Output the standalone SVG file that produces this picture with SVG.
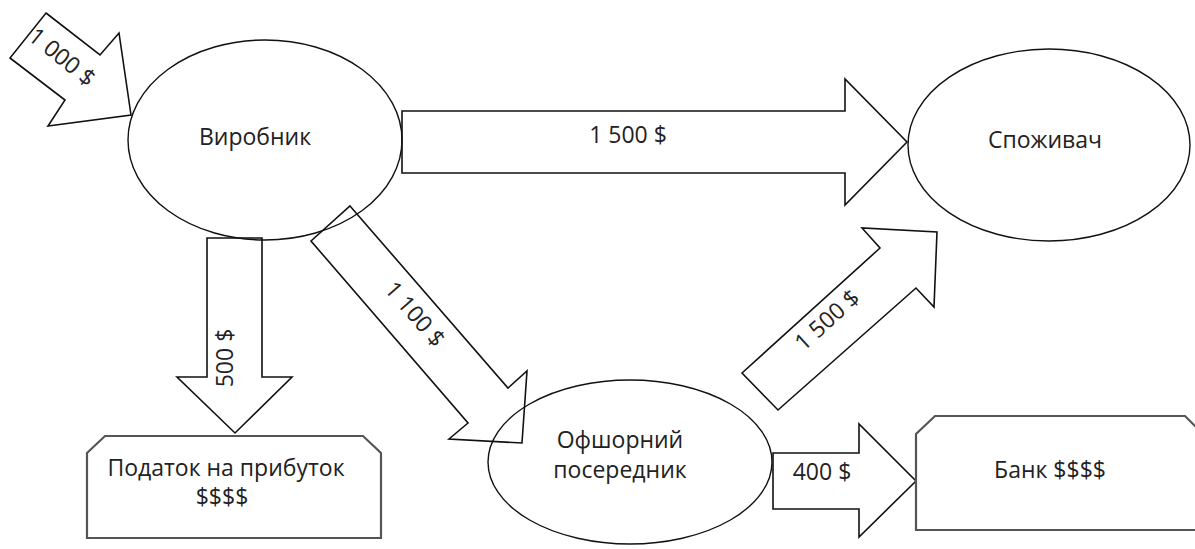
<svg xmlns="http://www.w3.org/2000/svg" width="1195" height="549" viewBox="0 0 1195 549">
<style>
  .bg { fill: #ffffff; }
  .node { fill: none; stroke: #111; stroke-width: 1.4; }
  .box { fill: none; stroke: #555; stroke-width: 2.2; }
  .arrow { fill: none; stroke: #111; stroke-width: 1.6; stroke-linejoin: miter; }
  .t { font-family: "Open Sans", "Noto Sans", "Liberation Sans", sans-serif; font-size: 23px; fill: #222; text-anchor: middle; }
</style>
<rect class="bg" x="0" y="0" width="1195" height="549"/>
<g id="connectors">
  <g id="arrow-1000">
    <polygon class="arrow" points="46,13 100,55 119,33 131,115 48,126 65,100 10,58"/>
    <text class="t" transform="translate(62,57) rotate(39)" y="8">1 000 $</text>
  </g>
  <g id="arrow-1500-top">
    <polygon class="arrow" points="402,111 845,111 845,79 907,142 845,205 845,173 402,173"/>
    <text class="t" x="628" y="143">1 500 $</text>
  </g>
  <g id="arrow-500">
    <polygon class="arrow" points="207,238 262,238 262,377 292,377 235,433 177,377 207,377"/>
    <text class="t" transform="translate(225,358) rotate(-90)" y="8">500 $</text>
  </g>
  <g id="arrow-1100">
    <polygon class="arrow" points="350,206 508,388 527,371 522,443 449,439 468,423 311,241"/>
    <text class="t" transform="translate(415,314) rotate(49)" y="8">1 100 $</text>
  </g>
  <g id="arrow-1500-diag">
    <polygon class="arrow" points="742,373 880,248 862,228 937,232 934,307 916,288 778,410"/>
    <text class="t" transform="translate(827,320) rotate(-42)" y="8">1 500 $</text>
  </g>
  <g id="arrow-400">
    <polygon class="arrow" points="773,453 859,453 859,424 916,481 859,537 859,509 773,509"/>
    <text class="t" x="822" y="480">400 $</text>
  </g>
</g>
<g id="node-vyrobnyk">
  <ellipse class="node" cx="265" cy="140" rx="137" ry="100"/>
  <text class="t" x="255" y="145">Виробник</text>
</g>
<g id="node-spozhyvach">
  <ellipse class="node" cx="1049" cy="145" rx="141" ry="96"/>
  <text class="t" x="1045" y="148">Споживач</text>
</g>
<g id="node-ofshor">
  <ellipse class="node" cx="630" cy="462" rx="142" ry="82"/>
  <text class="t" x="620" y="448">Офшорний</text>
  <text class="t" x="620" y="478">посередник</text>
</g>
<g id="node-podatok">
  <polygon class="box" points="87,453 105,436 363,436 381,453 381,538 87,538"/>
  <text class="t" x="226" y="476">Податок на прибуток</text>
  <text class="t" x="222" y="505">$$$$</text>
</g>
<g id="node-bank">
  <polygon class="box" points="916,434 935,416 1185,416 1203,434 1203,530 916,530"/>
  <text class="t" x="1050" y="478">Банк $$$$</text>
</g>
</svg>
